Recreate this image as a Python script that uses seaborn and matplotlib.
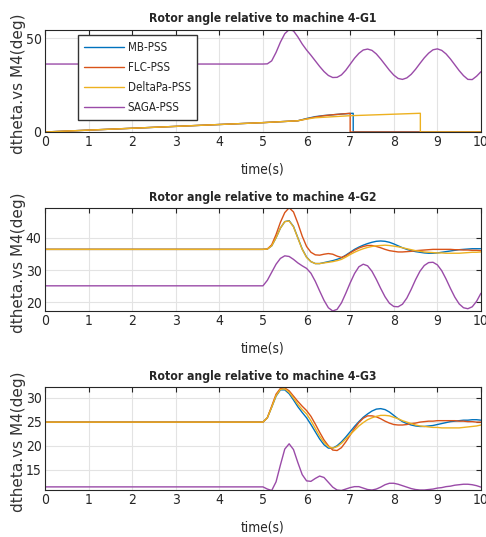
"""Rotor angle of G1-G3 relative to machine 4 for four PSS designs."""

import matplotlib

matplotlib.use("Agg")
import matplotlib.pyplot as plt
import pandas as pd
import seaborn as sns

CONTROLLERS = ["MB-PSS", "FLC-PSS", "DeltaPa-PSS", "SAGA-PSS"]
COLORS = {"MB-PSS": "#0072BD", "FLC-PSS": "#D95319", "DeltaPa-PSS": "#EDB120", "SAGA-PSS": "#9A4BA8"}

# shared time grid for the oscillating traces
T = [0.0, 5.0, 5.1, 5.2, 5.3, 5.4, 5.5, 5.6, 5.7, 5.8, 5.9,
     6.0, 6.1, 6.2, 6.3, 6.4, 6.5, 6.6, 6.7, 6.8, 6.9,
     7.0, 7.1, 7.2, 7.3, 7.4, 7.5, 7.6, 7.7, 7.8, 7.9,
     8.0, 8.1, 8.2, 8.3, 8.4, 8.5, 8.6, 8.7, 8.8, 8.9,
     9.0, 9.1, 9.2, 9.3, 9.4, 9.5, 9.6, 9.7, 9.8, 9.9, 10.0]

# G1: the three ramps wrap back to zero
G1_MB_T = [0.0, 5.0, 5.8, 6.0, 6.2, 6.4, 6.6, 6.8, 7.07, 7.07, 10.0]
G1_MB = [0.0, 5.0, 6.0, 7.2, 8.2, 8.8, 9.2, 9.6, 10.0, 0.0, 0.0]
G1_FLC_T = [0.0, 5.0, 5.8, 6.0, 6.2, 6.4, 6.6, 6.8, 7.0, 7.0, 10.0]
G1_FLC = [0.0, 5.0, 6.0, 7.0, 8.0, 8.7, 9.2, 9.6, 10.0, 0.0, 0.0]
G1_DPA_T = [0.0, 5.0, 5.8, 6.0, 6.2, 7.0, 8.61, 8.61, 10.0]
G1_DPA = [0.0, 5.0, 6.0, 6.9, 7.6, 8.7, 10.0, 0.0, 0.0]
G1_SAGA = [36.3, 36.3, 36.4, 38.0, 42.5, 48.0, 52.5, 54.7, 54.0, 50.8, 47.0,
           43.8, 41.0, 38.0, 35.0, 32.3, 30.2, 29.1, 29.2, 30.5, 33.0,
           36.2, 39.4, 42.0, 43.8, 44.3, 43.6, 41.7, 39.0, 36.0, 33.0,
           30.4, 28.6, 28.1, 28.9, 30.8, 33.5, 36.6, 39.6, 42.1, 43.9,
           44.4, 43.6, 41.7, 39.0, 35.9, 32.8, 30.1, 28.1, 28.0, 29.8, 32.2]

G2_MB = [36.4, 36.4, 36.5, 37.5, 40.0, 43.0, 45.0, 45.3, 43.5, 40.0, 36.5,
         34.0, 32.6, 32.0, 32.0, 32.3, 32.6, 32.9, 33.3, 33.8, 34.6,
         35.5, 36.4, 37.1, 37.7, 38.2, 38.6, 38.9, 39.0, 38.9, 38.6,
         38.1, 37.5, 36.9, 36.4, 36.0, 35.7, 35.5, 35.3, 35.2, 35.2,
         35.3, 35.5, 35.7, 35.9, 36.1, 36.3, 36.4, 36.5, 36.6, 36.6, 36.6]
G2_FLC = [36.4, 36.4, 36.5, 37.8, 41.0, 44.8, 47.8, 49.3, 48.0, 44.5, 40.5,
          37.3, 35.5, 34.7, 34.6, 34.9, 35.1, 34.9, 34.3, 33.9, 34.4,
          35.3, 36.1, 36.8, 37.3, 37.6, 37.6, 37.3, 36.9, 36.4, 36.0,
          35.8, 35.6, 35.6, 35.7, 35.8, 36.0, 36.1, 36.2, 36.3, 36.4,
          36.4, 36.4, 36.4, 36.4, 36.3, 36.3, 36.2, 36.2, 36.1, 36.1, 36.0]
G2_DPA = [36.4, 36.4, 36.5, 37.5, 40.0, 43.0, 45.0, 45.2, 43.4, 39.9, 36.4,
          33.9, 32.6, 32.0, 32.0, 32.2, 32.4, 32.6, 32.9, 33.3, 34.0,
          34.8, 35.5, 36.1, 36.6, 37.0, 37.3, 37.5, 37.6, 37.7, 37.6,
          37.4, 37.2, 36.9, 36.6, 36.3, 36.0, 35.8, 35.6, 35.5, 35.4,
          35.3, 35.3, 35.2, 35.2, 35.2, 35.2, 35.3, 35.4, 35.5, 35.5, 35.6]
G2_SAGA = [25.1, 25.1, 26.8, 29.3, 31.8, 33.6, 34.4, 34.2, 33.3, 32.2, 31.3,
           30.5, 29.0, 26.5, 23.5, 20.6, 18.3, 17.3, 17.8, 19.8, 22.8,
           26.0, 28.9, 31.0, 31.8, 31.3, 29.6, 27.1, 24.3, 21.7, 19.7,
           18.7, 18.6, 19.4, 21.3, 24.0, 27.0, 29.6, 31.4, 32.3, 32.4,
           31.6, 29.8, 27.2, 24.3, 21.6, 19.5, 18.3, 18.0, 18.6, 20.3, 22.8]

G3_MB = [24.9, 24.9, 25.8, 28.0, 30.3, 31.6, 31.6, 30.8, 29.5, 28.1, 26.9,
         25.8, 24.4, 22.9, 21.4, 20.2, 19.5, 19.5, 20.0, 20.8, 21.8,
         22.9, 24.0, 25.0, 25.9, 26.6, 27.2, 27.6, 27.7, 27.5, 27.0,
         26.3, 25.6, 25.0, 24.6, 24.3, 24.1, 24.0, 24.0, 24.1, 24.2,
         24.4, 24.6, 24.8, 25.0, 25.1, 25.2, 25.3, 25.3, 25.4, 25.4, 25.3]
G3_FLC = [24.9, 24.9, 25.8, 28.2, 30.7, 31.9, 32.0, 31.4, 30.3, 29.2, 28.2,
          27.3, 26.1, 24.5, 22.8, 21.2, 20.0, 19.1, 19.0, 19.6, 20.8,
          22.2, 23.6, 24.8, 25.7, 26.2, 26.2, 26.0, 25.6, 25.1, 24.7,
          24.4, 24.3, 24.3, 24.4, 24.6, 24.7, 24.9, 25.0, 25.1, 25.1,
          25.2, 25.2, 25.2, 25.2, 25.2, 25.1, 25.1, 25.0, 25.0, 24.9, 24.9]
G3_DPA = [24.9, 24.9, 25.8, 28.0, 30.4, 31.7, 31.8, 31.1, 29.9, 28.6, 27.5,
          26.6, 25.2, 23.6, 22.0, 20.7, 19.8, 19.5, 19.8, 20.5, 21.4,
          22.3, 23.2, 24.1, 24.8, 25.4, 25.8, 26.1, 26.3, 26.3, 26.2,
          25.9, 25.6, 25.2, 24.9, 24.6, 24.3, 24.1, 24.0, 23.9, 23.8,
          23.8, 23.7, 23.7, 23.7, 23.7, 23.7, 23.8, 23.9, 24.0, 24.1, 24.3]
G3_SAGA = [11.45, 11.45, 11.0, 10.7, 12.5, 16.0, 19.3, 20.4, 19.2, 16.5, 14.0,
           12.7, 12.6, 13.2, 13.7, 13.4, 12.4, 11.4, 10.8, 10.7, 11.0,
           11.3, 11.5, 11.5, 11.2, 10.9, 10.8, 11.0, 11.4, 11.9, 12.2,
           12.2, 12.0, 11.7, 11.4, 11.1, 10.9, 10.8, 10.8, 10.9, 11.0,
           11.2, 11.3, 11.5, 11.6, 11.8, 11.9, 12.0, 12.0, 11.9, 11.7, 11.4]

PANELS = [
    ("Rotor angle relative to machine 4-G1",
     [(G1_MB_T, G1_MB), (G1_FLC_T, G1_FLC), (G1_DPA_T, G1_DPA), (T, G1_SAGA)],
     (0, 54.5), [0, 50]),
    ("Rotor angle relative to machine 4-G2",
     [(T, G2_MB), (T, G2_FLC), (T, G2_DPA), (T, G2_SAGA)],
     (17.3, 49.1), [20, 30, 40]),
    ("Rotor angle relative to machine 4-G3",
     [(T, G3_MB), (T, G3_FLC), (T, G3_DPA), (T, G3_SAGA)],
     (10.8, 32.1), [15, 20, 25, 30]),
]

sns.set_theme(style="whitegrid")
plt.rcParams["font.family"] = ["DejaVu Sans"]
plt.rcParams.update({
    "font.stretch": "condensed",
    "axes.edgecolor": "#262626",
    "axes.linewidth": 0.8,
    "grid.color": "#e3e3e3",
    "grid.linewidth": 0.8,
    "xtick.direction": "in",
    "ytick.direction": "in",
    "xtick.color": "#262626",
    "ytick.color": "#262626",
})

fig = plt.figure(figsize=(4.86, 5.37), dpi=100)
boxes = [[0.0926, 0.7542, 0.897, 0.190],
         [0.0926, 0.4209, 0.897, 0.191],
         [0.0926, 0.0875, 0.897, 0.191]]

for i, (title, series, ylim, yticks) in enumerate(PANELS):
    ax = fig.add_axes(boxes[i])
    frames = []
    for name, (tt, vals) in zip(CONTROLLERS, series):
        assert len(tt) == len(vals), (title, name)
        frames.append(pd.DataFrame({"time": tt, "value": vals, "controller": name}))
    df = pd.concat(frames, ignore_index=True)
    sns.lineplot(data=df, x="time", y="value", hue="controller", hue_order=CONTROLLERS,
                 palette=COLORS, estimator=None, sort=False, linewidth=1.0,
                 legend=(i == 0), ax=ax)
    ax.set_xlim(0, 10)
    ax.set_ylim(*ylim)
    ax.set_xticks(range(0, 11))
    ax.set_yticks(yticks)
    ax.tick_params(axis="both", which="both", top=True, right=True, length=3.5,
                   width=0.8, labelsize=10, pad=2.5)
    for side in ax.spines.values():
        side.set_visible(True)
    ax.set_title(title, fontsize=8.7, fontweight="bold", pad=5.5)
    ax.set_xlabel("time(s)", fontsize=9.8)
    ax.set_ylabel("dtheta.vs M4(deg)", fontsize=11, fontstretch="normal",
                  color="#333333")
    ax.xaxis.set_label_coords(0.5, -0.30)
    ax.yaxis.set_label_coords(-0.043, 0.47)
    if i == 0:
        ax.legend(title=None, loc="upper left", bbox_to_anchor=(0.076, 0.951),
                  borderaxespad=0, frameon=True, fancybox=False,
                  edgecolor="#333333", framealpha=1,
                  fontsize=8.3, handlelength=3.4, handletextpad=0.35,
                  labelspacing=0.6, borderpad=0.55)

fig.savefig("out.png", dpi=100)
